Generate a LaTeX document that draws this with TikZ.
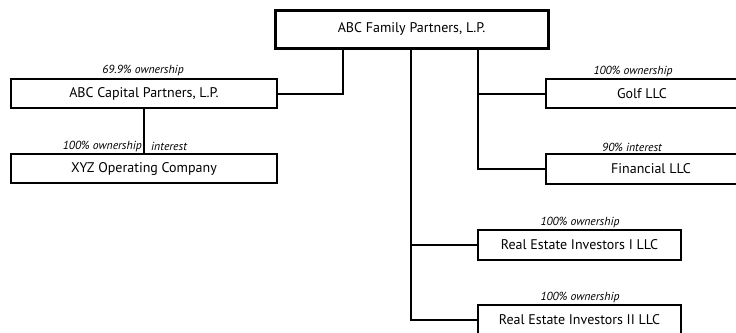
\documentclass[tikz,border=0pt]{standalone}
\usepackage{fontspec}
\setmainfont{PT Sans}
\begin{document}
\begin{tikzpicture}[x=1pt,y=-1pt,
  entity/.style={draw, line width=2pt, fill=white, inner sep=0pt, font=\fontsize{14}{16}\selectfont},
  topentity/.style={entity, line width=3pt},
  share/.style={font=\fontsize{11.7}{13}\selectfont\itshape, inner sep=0pt},
  link/.style={line width=2pt}]
\useasboundingbox (0,0) rectangle (736,332);
\clip (0,0) rectangle (736,332);
\coordinate (t1) at (343,48);
\coordinate (t2) at (478,48);
\coordinate (t3) at (411,48);
\node[topentity, minimum width=273pt, minimum height=38pt] (top) at (411.5,29) {ABC Family Partners, L.P.};
\node[entity, minimum width=266pt, minimum height=29pt] (cap) at (144,93.5) {ABC Capital Partners, L.P.};
\node[entity, minimum width=266pt, minimum height=29pt] (xyz) at (144,168.5) {XYZ Operating Company};
\node[entity, minimum width=192pt, minimum height=29pt] (golf) at (642,93.5) {Golf LLC};
\node[entity, minimum width=210pt, minimum height=30pt] (fin) at (651,169) {Financial LLC};
\node[entity, minimum width=203pt, minimum height=30pt] (re1) at (579.5,245) {Real Estate Investors I LLC};
\node[entity, minimum width=203pt, minimum height=30pt] (re2) at (579.5,320) {Real Estate Investors II LLC};
\draw[link] (top.south -| t1) |- (cap.east);
\draw[link] (cap.south -| xyz.north) -- (xyz.north);
\draw[link] (top.south -| t2) |- (golf.west);
\draw[link] (top.south -| t2) |- (fin.west);
\draw[link] (top.south -| t3) |- (re1.west);
\draw[link] (top.south -| t3) |- (re2.west);
\node[share] (l1) at (143,70) {69.9\% ownership};
\node[share, anchor=east] (l2) at (142,146) {100\% ownership};
\node[share, anchor=west] (l3) at (151,146) {interest};
\node[share] (l4) at (633,71) {100\% ownership};
\node[share] (l5) at (632,147) {90\% interest};
\node[share] (l6) at (580,222) {100\% ownership};
\node[share] (l7) at (580,297) {100\% ownership};
\end{tikzpicture}
\end{document}
